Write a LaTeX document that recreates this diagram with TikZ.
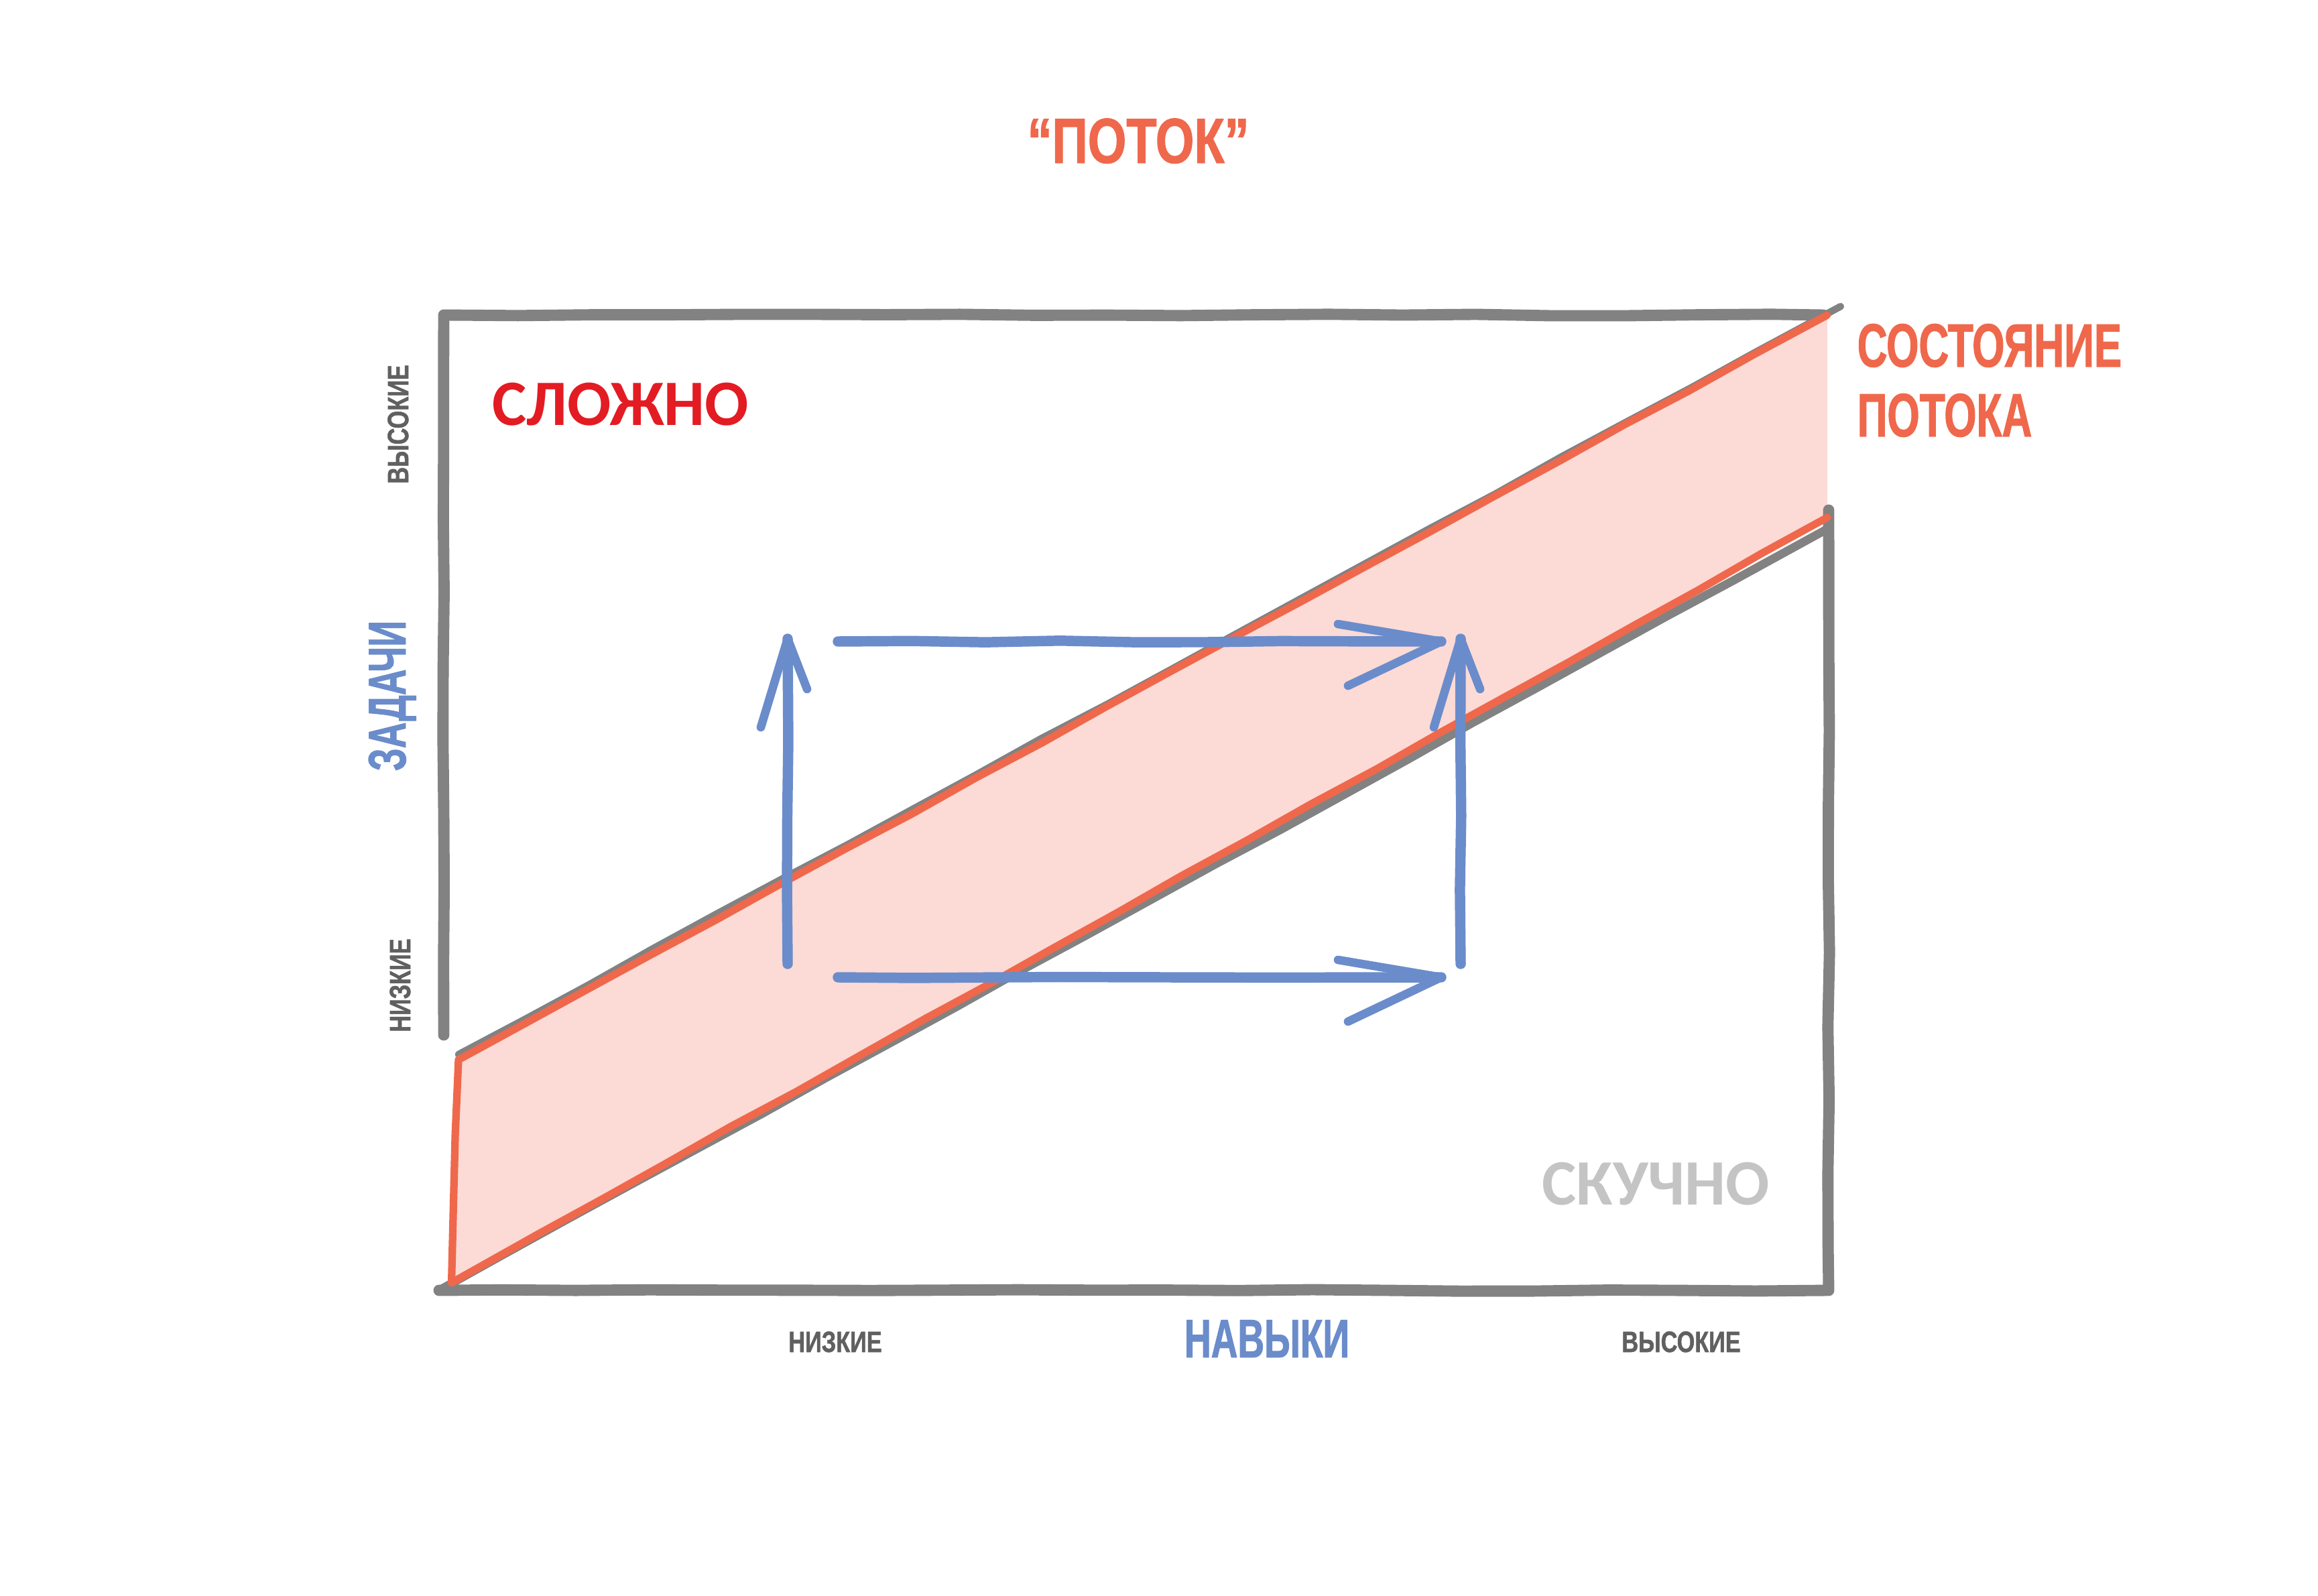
\documentclass[tikz,border=0pt]{standalone}
\usepackage{fontspec}
\setmainfont{Liberation Sans}
\newfontfamily\cond{Liberation Sans}[FakeStretch=0.68, FakeBold=1.2]
\newfontfamily\condw{Liberation Sans}[FakeStretch=0.78, FakeBold=1.2]
\newfontfamily\calib{Carlito}
\usetikzlibrary{decorations.pathmorphing}
\definecolor{flow}{HTML}{EF684C}
\definecolor{hard}{HTML}{E31B23}
\definecolor{skill}{HTML}{6B8CCB}
\definecolor{frame}{HTML}{828282}
\definecolor{tick}{HTML}{606060}
\definecolor{bored}{HTML}{C4C4C4}
\definecolor{band}{HTML}{FCDAD6}
\begin{document}
\begin{tikzpicture}[
  rough/.style={decorate, decoration={random steps, segment length=11mm, amplitude=0.12mm}, line cap=round, line join=round},
  axisline/.style={rough, draw=frame, line width=4.8pt},
  bandedge/.style={rough, draw=flow, line width=3.2pt},
  chalk/.style={rough, draw=skill, line width=4.4pt},
  chalkhead/.style={draw=skill, line width=3.6pt, line cap=round, line join=round},
  title/.style={font=\condw\bfseries\fontsize{27}{31}\selectfont, text=flow, anchor=base},
  flowlabel/.style={font=\cond\bfseries\fontsize{26}{30}\selectfont, text=flow, anchor=base west},
  zone/.style={font=\calib\bfseries\fontsize{27.5}{32}\selectfont, anchor=base west},
  axisname/.style={font=\cond\bfseries\fontsize{23}{27}\selectfont, text=skill, anchor=base},
  level/.style={font=\condw\bfseries\fontsize{12.5}{15}\selectfont, text=tick, anchor=base},
  inner sep=0pt
]
\pgfmathsetseed{7}
\useasboundingbox (0,0) rectangle (34.58,23.80);

% band of flow
\coordinate (bl) at (6.73,4.66);
\coordinate (tl) at (6.84,7.99);
\coordinate (tr) at (27.26,19.10);
\coordinate (br) at (27.26,16.08);
\fill[band] (bl) -- (tl) -- (tr) -- (br) -- cycle;

% frame
\coordinate (fo) at (6.55,4.55);
\coordinate (fbr) at (27.28,4.55);
\coordinate (fright) at (27.28,16.19);
\coordinate (fleft) at (6.62,8.36);
\coordinate (ftl) at (6.62,19.10);
\coordinate (ftr) at (27.20,19.10);
\draw[axisline] (fleft) -- (ftl) -- (ftr);
\draw[axisline] (fright) -- (fbr) -- (fo);
\coordinate (gup) at (27.46,19.23);
\coordinate (gupl) at (6.84,8.07);
\coordinate (glow) at (27.28,15.92);
\draw[axisline, line width=3pt] (gupl) -- (gup);
\draw[axisline, line width=3.6pt] (fo) -- (glow);

% band edges
\draw[bandedge] (br) -- (bl) -- (tl) -- (tr);

% skill arrows
\coordinate (up1s) at (11.75,9.42);
\coordinate (up1t) at (11.75,14.27);
\coordinate (up2s) at (21.79,9.42);
\coordinate (up2t) at (21.79,14.27);
\coordinate (r1s) at (12.50,14.23);
\coordinate (r1t) at (21.50,14.23);
\coordinate (r2s) at (12.50,9.22);
\coordinate (r2t) at (21.50,9.22);
\draw[chalk] (up1s) -- (up1t);
\draw[chalk] (up2s) -- (up2t);
\draw[chalk] (r1s) -- (r1t);
\draw[chalk] (r2s) -- (r2t);
\draw[chalkhead] ([shift={(-0.40,-1.32)}]up1t) -- (up1t) -- ([shift={(0.29,-0.75)}]up1t);
\draw[chalkhead] ([shift={(-0.40,-1.32)}]up2t) -- (up2t) -- ([shift={(0.29,-0.75)}]up2t);
\draw[chalkhead] ([shift={(-1.54,0.26)}]r1t) -- (r1t) -- ([shift={(-1.39,-0.66)}]r1t);
\draw[chalkhead] ([shift={(-1.54,0.26)}]r2t) -- (r2t) -- ([shift={(-1.39,-0.66)}]r2t);

% texts
\node[title] (title) at (16.98,21.37) {“ПОТОК”};
\node[zone, text=hard] (hard) at (7.34,17.45) {СЛОЖНО};
\node[zone, text=bored] (bored) at (23.00,5.83) {СКУЧНО};
\node[flowlabel] (flowa) at (27.70,18.33) {СОСТОЯНИЕ};
\node[flowlabel] (flowb) at (27.70,17.29) {ПОТОКА};
\node[axisname] (skills) at (18.90,3.55) {НАВЫКИ};
\node[level] (sklow) at (12.46,3.63) {НИЗКИЕ};
\node[level] (skhigh) at (25.08,3.63) {ВЫСОКИЕ};
\node[axisname, rotate=90, font=\cond\bfseries\fontsize{22.5}{26}\selectfont] (tasks) at (6.05,13.42) {ЗАДАЧИ};
\node[level, rotate=90] (tkhigh) at (6.09,17.47) {ВЫСОКИЕ};
\node[level, rotate=90] (tklow) at (6.12,9.10) {НИЗКИЕ};
\end{tikzpicture}
\end{document}
